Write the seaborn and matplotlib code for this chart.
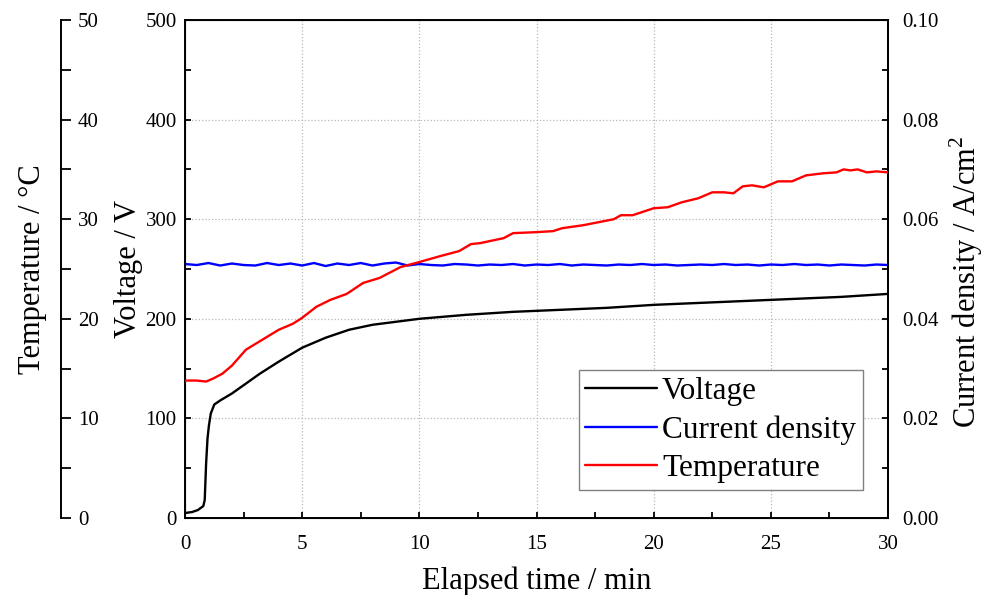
import numpy as np
import pandas as pd
import matplotlib
matplotlib.use('Agg')
import matplotlib.pyplot as plt
import seaborn as sns
from matplotlib.ticker import MultipleLocator, FormatStrFormatter

# voltage (V) vs elapsed time (min)
time_v = [0, 0.3, 0.55, 0.78, 0.84, 0.9, 0.96, 1.02, 1.1, 1.25, 1.5, 2.0, 2.6,
          3.2, 4.0, 5.0, 6.0, 7.0, 8.0, 9.0, 10, 11, 12, 14, 16, 18, 20, 22,
          24, 26, 28, 30]
volt = [5, 6, 8, 12, 18, 55, 80, 93, 105, 114, 118, 125, 135,
        145, 157, 171, 181, 189, 194, 197, 200, 202, 204, 207, 209, 211, 214, 216,
        218, 220, 222, 225]

# temperature (degC)
time_t = [0, 0.5, 0.9, 1.2, 1.6, 2.0, 2.6, 3.3, 4.0, 4.6, 5.0, 5.6, 6.2, 6.9,
          7.6, 8.3, 9.2, 10, 10.9, 11.7, 12.2, 12.6, 13.6, 14.0, 15.0, 15.7,
          16.1, 17.0, 18.3, 18.6, 19.1, 20, 20.6, 21.2, 21.9, 22.5, 23.0, 23.4,
          23.8, 24.2, 24.7, 25.3, 25.9, 26.5, 27.2, 27.8, 28.1, 28.4, 28.7, 29.1,
          29.5, 30]
temp = [13.8, 13.8, 13.7, 14.0, 14.5, 15.3, 16.9, 17.9, 18.9, 19.5, 20.1, 21.2,
        21.9, 22.5, 23.6, 24.1, 25.2, 25.7, 26.3, 26.8, 27.5, 27.6, 28.1, 28.6,
        28.7, 28.8, 29.1, 29.4, 30.0, 30.4, 30.4, 31.1, 31.2, 31.7, 32.1, 32.7,
        32.7, 32.6, 33.3, 33.4, 33.2, 33.8, 33.8, 34.4, 34.6, 34.7, 35.0, 34.9,
        35.0, 34.7, 34.8, 34.7]

# current density (A/cm2), sampled every 0.5 min
time_j = np.arange(0, 30.5, 0.5)
curr = [0.0510, 0.0508, 0.0512, 0.0507, 0.0511, 0.0508, 0.0507, 0.0512, 0.0508, 0.0511,
        0.0507, 0.0512, 0.0506, 0.0511, 0.0508, 0.0512, 0.0507, 0.0511, 0.0513, 0.0507,
        0.0510, 0.0508, 0.0507, 0.0510, 0.0509, 0.0507, 0.0509, 0.0508, 0.0510, 0.0507,
        0.0509, 0.0508, 0.0510, 0.0507, 0.0509, 0.0508, 0.0507, 0.0509, 0.0508, 0.0510,
        0.0508, 0.0509, 0.0507, 0.0508, 0.0509, 0.0508, 0.0510, 0.0508, 0.0509, 0.0507,
        0.0509, 0.0508, 0.0510, 0.0508, 0.0509, 0.0507, 0.0509, 0.0508, 0.0507, 0.0509, 0.0508]

sns.set_style('ticks', rc={'text.color': 'black', 'axes.labelcolor': 'black',
                           'xtick.color': 'black', 'ytick.color': 'black',
                           'axes.edgecolor': 'black'})
plt.rcParams['font.family'] = ['Liberation Serif', 'DejaVu Serif']
plt.rcParams['mathtext.fontset'] = 'custom'
plt.rcParams['mathtext.rm'] = 'Liberation Serif'

fig = plt.figure(figsize=(9.9, 5.95), dpi=100)
ax = fig.add_axes([0.1869, 0.1294, 0.7101, 0.837])
ax_j = ax.twinx()
ax_t = ax.twinx()

sns.lineplot(x=time_v, y=volt, ax=ax, color='black', lw=1.7, label='Voltage', legend=False)
sns.lineplot(x=time_j, y=curr, ax=ax_j, color='blue', lw=1.7, label='Current density', legend=False)
sns.lineplot(x=time_t, y=temp, ax=ax_t, color='red', lw=1.7, label='Temperature', legend=False)

tick_fs = 15
lab_fs = 22

# main axes
ax.set_xlim(0, 30)
ax.set_ylim(0, 500)
ax.xaxis.set_major_locator(MultipleLocator(5))
ax.xaxis.set_minor_locator(MultipleLocator(2.5))
ax.yaxis.set_major_locator(MultipleLocator(100))
ax.yaxis.set_minor_locator(MultipleLocator(50))
ax.tick_params(which='both', direction='in', length=4, width=1.3, labelsize=tick_fs, pad=6)
ax.tick_params(axis='x', which='both', pad=12)
ax.grid(True, which='major', linestyle=':', color='#b8b8b8', linewidth=0.9)
ax.set_xlabel('Elapsed time / min', fontsize=lab_fs, labelpad=9)
ax.set_ylabel('Voltage / V', fontsize=lab_fs, labelpad=2)
for s in ax.spines.values():
    s.set_linewidth(1.4)

# current density axis on the right
ax_j.set_ylim(0, 0.1)
ax_j.yaxis.set_major_locator(MultipleLocator(0.02))
ax_j.yaxis.set_minor_locator(MultipleLocator(0.01))
ax_j.yaxis.set_major_formatter(FormatStrFormatter('%.2f'))
ax_j.tick_params(which='both', direction='in', length=4, width=1.3, labelsize=tick_fs, pad=10)
ax_j.set_ylabel('Current density / A/cm$^2$', fontsize=lab_fs)
ax_j.yaxis.set_label_coords(1.084, 0.475)
ax_j.spines['right'].set_linewidth(1.4)

# temperature axis moved out to the left
ax_t.set_ylim(0, 50)
ax_t.spines['right'].set_position(('axes', -0.176))
ax_t.spines['right'].set_linewidth(1.4)
for side in ['left', 'top', 'bottom']:
    ax_t.spines[side].set_visible(False)
ax_t.yaxis.set_major_locator(MultipleLocator(10))
ax_t.yaxis.set_minor_locator(MultipleLocator(5))
ax_t.tick_params(which='both', direction='out', length=7, width=1.3, labelsize=tick_fs, pad=5)
ax_t.set_ylabel('Temperature / °C', fontsize=lab_fs)
ax_t.yaxis.set_label_coords(-0.237, 0.5)

for a in (ax, ax_j, ax_t):
    a.set_xlim(0, 30)

handles = [ax.get_lines()[0], ax_j.get_lines()[0], ax_t.get_lines()[0]]
labels = ['Voltage', 'Current density', 'Temperature']
leg = ax_t.legend(handles, labels, loc='upper right', bbox_to_anchor=(0.964, 0.297),
                  fontsize=22.5, frameon=True, fancybox=False, framealpha=1,
                  edgecolor='#808080', handlelength=2.3, borderaxespad=0,
                  labelspacing=0.3, borderpad=0.22, handletextpad=0.15)
leg.get_frame().set_linewidth(1.0)

fig.savefig('out.png', dpi=100)
